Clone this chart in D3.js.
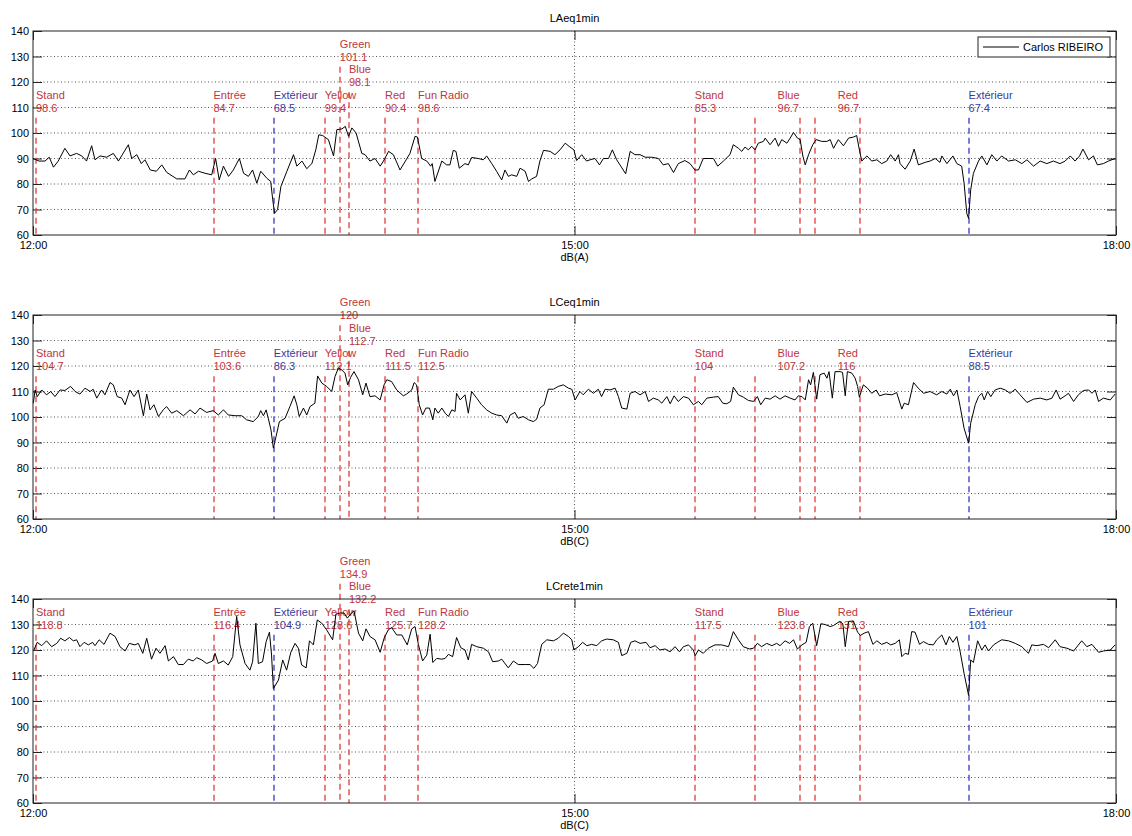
<!DOCTYPE html>
<html>
<head>
<meta charset="utf-8">
<script src="https://cdn.jsdelivr.net/npm/d3@7"></script>
<style>
  body { margin: 0; background: #fff; }
  svg { font-family: "Liberation Sans", Arial, sans-serif; font-size: 11px; }
  .tick line { stroke: #222; }
  .tick text { fill: #000; font-size: 11px; }
  .gridlines line { stroke: #555; stroke-dasharray: 1,2.5; }
</style>
</head>
<body>
<svg id="chart" width="1132" height="836"></svg>
<script>
// ----- data: minutes after 12:00, dB -----
const laeq = [[0,90],[2,89],[4,89],[5.4,90.5],[6.8,86.6],[8.4,89],[10.6,94],[12.3,91],[14.5,92],[16.2,91],[17.8,89],[19.5,95],[20.6,89.5],[22.3,91],[24.5,90.5],[26.7,92],[28.4,89],[31.7,95.4],[32.8,90],[34.5,91.5],[36,88],[37.2,89.5],[39,85.5],[41,85],[42.8,87.5],[44.5,84.5],[47.8,82],[50.5,82],[52,85.5],[53.3,83.6],[55,85],[57.2,84.2],[59.4,83.6],[60.7,90],[61.9,81.6],[63.3,87],[65,83],[66.6,85.5],[68.6,90],[70,84.2],[71.6,83],[73,85.5],[74.4,80.3],[75.7,85],[77.7,82.3],[79,81],[79.7,73.8],[80.3,68.5],[81.3,70],[82.4,79],[84.4,85],[86.6,91.5],[87.7,87],[89.4,89],[91,86],[92.7,88],[94,93.4],[95,99.3],[96.3,99],[98.2,97.4],[99.9,91],[101,101.3],[102.7,101.6],[103.8,102.6],[104.9,98.7],[106,102],[107.4,100],[109.3,92],[110.4,91.5],[112,89],[113.7,90],[115.4,87],[116.5,89],[118.2,92.8],[119.8,91.5],[122,85.5],[124.3,90],[125.3,92],[127,98.7],[127.8,98.4],[129.2,90],[130.9,89],[132.2,87],[132.7,88],[133.6,81],[135.9,89],[137.5,87.5],[138.6,87.5],[139.7,93.2],[140.6,92.8],[141.7,86.2],[143.6,88],[144.7,87.5],[145.8,90.4],[148,90],[149.7,89.5],[150.8,91],[152.5,88],[154.1,85],[155.8,81.6],[156.9,85.5],[158,83],[159.1,83.6],[160.8,83],[161.9,86.2],[163.6,85],[164.7,81],[165.8,82],[167.4,83],[168.5,89],[169.7,93.2],[171.9,92.8],[173.5,91.5],[175.2,93.4],[176.9,96],[178.5,94.5],[179.8,93.4],[180.7,89.2],[182.4,91.5],[184,89],[185.2,89.5],[186.8,90],[188.3,87.5],[189.6,90],[191.3,90],[192.6,93.4],[194,89.5],[195.4,87],[197,84],[198.5,92.8],[200.1,91.5],[201.8,91.5],[203.5,90.5],[205.7,90.5],[207.9,90],[209.5,87.5],[211.2,88],[212.9,84.5],[214.5,88],[216.7,89.2],[218.4,88],[220,85.5],[221.2,85.5],[222.8,90],[224.5,90],[226.2,90],[227.6,87],[229.5,89],[231.7,91.5],[232.8,95.4],[234.5,94],[235.6,92.8],[236.7,94.5],[237.8,93.4],[238.9,94.8],[240,93.4],[241.1,96],[242.8,96.7],[243.4,98],[245,95.4],[246.7,98],[247.8,94.8],[248.9,97.4],[250.6,96],[251.7,98],[252.8,100.2],[254.1,98],[255,97.4],[255.9,91],[256.7,87.5],[257.8,91.5],[259.2,95.4],[260.3,97.4],[262.2,96.7],[263.9,96.7],[265,97.4],[266.1,94],[267.7,97.4],[269.4,95],[271.1,98],[272.7,98.4],[273.8,99],[274.6,94],[275.5,89],[277.2,91],[278.8,89],[280.5,89.5],[282.1,88],[283.8,89],[285.1,91.5],[286.6,89],[287.7,91.5],[288.2,88],[289.9,85.8],[291.6,89],[292.9,93.7],[294.3,87.5],[296.6,88.5],[298.2,89],[299.9,90],[301.5,88.5],[302.1,91],[303.8,88],[305.8,91],[307.1,88],[308.7,87],[309.5,80.3],[310.4,68.5],[311,66.5],[311.7,77.7],[312.6,84.2],[314.3,89],[315.4,91],[317.1,87.5],[318.7,91.5],[320.4,89],[322,91],[324.3,89],[326.5,89.5],[328.7,88],[330.4,89.5],[332.6,87],[334.8,89],[337,88],[339.2,89],[341.4,88],[343.1,89],[344.8,91],[346.4,89],[347.9,91],[349,93.7],[350.9,89.5],[352.5,91],[353.8,87.5],[355.8,88],[357.5,89],[359.7,90]];

const lceq = [[0.1,105.4],[0.7,110.6],[1.4,108],[2.9,110.6],[4.5,108.7],[5.9,110],[7.3,108],[9,110.6],[10.6,110.4],[12.5,112],[14,110],[15.6,109],[17.3,111.3],[19,110],[20,110.9],[21.2,107.4],[22.8,110.6],[23.9,108.7],[25.6,113.5],[26.7,112.6],[28,108],[29.5,107.4],[30.6,104.8],[32.2,110.6],[33.6,108],[35,110.6],[36.7,100.5],[37.8,109],[38.9,102.8],[40.2,104.8],[41.7,100.2],[43.3,102.8],[44.4,104.1],[46.1,101.5],[47.8,102.5],[50,100.5],[52.2,102.8],[53.9,101.2],[55.5,103.5],[57.7,101.8],[59.9,102.5],[61.6,100.8],[63.3,102.8],[64.9,100.8],[67.2,100.5],[69.4,100.5],[71,98.9],[73.2,98.2],[74.9,100.2],[75.7,102.5],[76.6,100.5],[77.5,102.8],[78.2,99.5],[79.1,95],[79.9,87.8],[80.8,92.4],[81.9,98.2],[83.8,99.5],[85.4,104.1],[86.8,108.3],[87.7,104.8],[88.5,100.2],[89.9,103.5],[91,100.8],[92.1,104.1],[93.7,105.4],[94.6,116.1],[96,113.3],[97.6,112],[99.3,110],[100.4,115.9],[101.5,119.2],[102.6,118.5],[103.7,117.2],[104.6,112.6],[105.6,115.6],[106.7,117.8],[108.2,114.6],[109.6,108.7],[110.7,113.3],[112,108],[113.7,108.3],[115.4,106.7],[116.7,112.6],[117.6,114.6],[119.2,113.9],[120.9,110.6],[123.1,108.3],[124.2,109],[125.9,110.6],[126.7,113.5],[127.5,112.6],[128.4,104.8],[129.5,100.8],[130.6,103.5],[131.8,103.5],[132.9,98.9],[133.6,103.5],[134.7,101.5],[135.9,103.5],[137,101.5],[138.1,100.2],[139.2,102.8],[140.3,102.2],[140.8,109.3],[142,106.7],[143.6,108.7],[144.7,101.5],[145.8,110],[147.5,107.4],[149.1,104.8],[150.8,102.8],[152.5,101.5],[154.1,100.8],[155.8,100.5],[157.5,97.6],[158.6,100.8],[160.2,101.8],[161.3,99.5],[163,100.2],[164.7,98.9],[166.3,98.2],[167.4,99.1],[168.5,103.5],[169.9,104.8],[171.3,110.9],[173,110.9],[174.6,112],[176.3,112.6],[178,111.3],[179.1,110.9],[180.2,106.7],[181.8,110],[182.9,108.7],[184.6,110.9],[186.3,109.3],[187.9,110.9],[189,108],[190.2,110.9],[191.8,110.6],[193.5,111.3],[194.6,108],[195.7,103.5],[197.4,103.1],[198.5,109.3],[200.1,110],[201.8,108.7],[203.5,110],[204.6,106.1],[206.2,107.4],[207.9,106.7],[209,105.4],[210.7,108],[211.8,105.2],[213.1,108.3],[214.5,106.1],[216.2,108],[217.9,107.4],[219.5,104.8],[221.2,106.1],[222.3,104.8],[224,107.4],[226.2,107.8],[227.8,108],[229.3,105.4],[230.6,105.2],[231.9,106.1],[232.8,111.7],[234.5,108.7],[236.1,107.8],[237.8,106.5],[239.5,106.1],[240.8,108],[241.9,104.8],[243.4,107.4],[245,107],[246.7,108.3],[248.3,107],[250,108.3],[251.7,107.4],[253.3,106.7],[254.4,108.3],[255.6,108],[256.7,106.7],[257.8,114.6],[258.5,112.6],[259.4,117.5],[260.5,107],[261.6,116.6],[263,117.2],[263.9,115.2],[264.6,117.8],[265.7,107.4],[266.6,117.8],[268.3,117.8],[269.1,117.5],[270,108.3],[270.7,117.8],[272.2,117.2],[273.3,115.2],[274.1,112],[274.7,107.8],[276,112.6],[277.4,111.3],[278.8,109.3],[280.3,110.6],[281.4,108.3],[283.3,109],[285.5,108.7],[287.1,109.6],[288.8,103.1],[289.6,105.4],[291,104.8],[292.7,113.5],[294.3,111.3],[296,109.3],[298.2,110],[300.4,108.7],[302.1,110],[303.8,109],[304.9,110.9],[306,108.3],[307.1,110.6],[308.2,104.1],[309.5,95.6],[311,89.7],[311.7,97.6],[313.2,104.8],[314.3,108],[315.4,109.3],[316.2,106.7],[317.3,110],[318.4,108],[319.8,110.6],[321.5,111.3],[323.2,110.6],[324.8,109.3],[326.5,110.9],[328.1,108.7],[330.4,105.7],[332.6,107],[334.8,107.4],[337,106.7],[338.7,107.4],[340.1,110.6],[341.4,107],[343.1,108.3],[344.2,109.3],[345.9,106.1],[347.5,108.7],[349.2,110.4],[350.9,110.6],[352,109.3],[353.1,110.6],[354.2,106.1],[355.8,107.4],[358.1,106.7],[359.7,109]];

const lcrete = [[0.3,120],[1.4,123],[2.9,121.7],[4.5,123.6],[6.2,121.3],[7.9,122.6],[9.2,124.6],[10.6,123.6],[12.1,124.9],[13.4,123.6],[14.5,124],[15.6,121.3],[17,123],[18.4,122],[19.8,123],[20.6,121.7],[22,124],[23.6,122.2],[25.6,126.6],[27.3,125.3],[28.9,121.3],[30.6,119.6],[32,122.6],[33.9,122],[35,122.6],[36.5,118.7],[37.8,124.6],[39.4,116.4],[40.9,120.7],[42.2,118.7],[43.9,121.7],[45,115.7],[46.7,117.4],[48.3,114.3],[50,114.3],[51.6,116.4],[53.3,115.7],[54.4,117],[56.1,116.1],[57.7,114.7],[59.7,115.7],[60.5,118.7],[61.6,114.7],[63.3,115.7],[64.9,114.1],[66.4,117.4],[67.7,133.2],[68.8,122],[70.5,114.7],[72.1,112.1],[73,115.4],[74.1,130.5],[74.9,114.7],[76.3,115.4],[77.5,123.3],[78.6,127],[79.3,118],[79.9,104.9],[81.6,108.2],[83,116.1],[84.3,112.1],[85.7,119.1],[87.1,122.6],[88.2,120.7],[89.3,114.1],[90.8,113],[91.9,123.6],[93.2,122],[94.5,131.8],[96,130.5],[97.6,127.9],[99.6,124],[100.7,134.1],[102.1,134.5],[103.4,134.5],[104.5,132.5],[105.6,134.1],[106.7,135.4],[108.2,126.6],[109.6,123.6],[110.7,128.3],[112,125.3],[113.7,124],[115.4,119.1],[116.7,124.6],[118.1,127.9],[119.2,128.8],[120.9,125.9],[122.6,125.9],[124.4,122],[125.9,128.3],[127,129.2],[128.1,122.2],[129.5,115.7],[130.9,118],[132,126.2],[132.9,115.1],[134.2,116.7],[135.9,116.4],[137,116.7],[138.1,118.3],[139.5,117.4],[140.8,124.9],[142.2,120.9],[143.6,120],[144.7,116.1],[145.8,122.2],[147.5,121.3],[149.7,120.7],[151.4,119.3],[152.8,115.4],[154.7,115.7],[155.8,116.4],[158,113],[159.7,115.7],[161.3,114.3],[163.6,114.3],[165.2,114.3],[166.5,112.8],[167.7,114.7],[169.1,122.2],[170.8,124],[173,123.6],[174.6,124.6],[176.3,126.6],[178,125.3],[179.1,124],[179.8,120],[181.3,121.3],[182.7,123],[184.1,121.7],[185.7,122.2],[187.4,121.7],[189,123.6],[190.7,124.3],[192.9,124],[194.6,123],[195.7,117.8],[197.4,118.7],[198.7,123],[200.1,123.6],[201.8,122.6],[203.8,123],[205.1,120.9],[206.8,121.7],[208.4,120],[210.1,120.4],[211.8,119.3],[213.4,121.3],[214.9,119.3],[216.2,121.3],[217.9,122],[219.5,120],[220.1,117.8],[221.2,120],[222.8,118.7],[224.5,120.7],[226.7,122],[228.9,122],[231.2,121.3],[232.8,127.2],[234.5,124],[236.1,121.3],[238.1,120.4],[239.5,120.7],[240.8,122.6],[242.2,121.3],[243.9,122.6],[245.6,121.7],[247.2,122.6],[248.3,121.7],[250,123.6],[251.5,122.6],[252.8,124],[254.1,120.4],[255.6,122],[257,123],[258.1,129.2],[259.2,130.5],[260.5,121.7],[261.9,130.3],[263.3,130],[265,129.2],[266.1,129.6],[268.1,131.2],[269.2,130.3],[270,121.3],[271.1,131.2],[272.7,131.4],[274.1,127],[275,125.7],[276.3,126.6],[277.7,127.2],[279.2,122.2],[280.5,123.6],[282.1,122.2],[283.8,123],[285.1,122],[286.6,122.6],[288,124],[288.8,117.4],[289.9,118.7],[291,118.3],[292.1,127.2],[293.2,127],[294.7,122.2],[296,123.3],[297.7,122.2],[299.3,122],[300.4,124],[302.1,125.9],[303.5,122],[304.6,125.3],[305.8,123],[307.1,125.3],[308.2,119.3],[309.5,110.8],[311,102.2],[311.7,116.1],[312.6,115.1],[314,123.6],[315.4,120],[316.5,122],[317.6,119.6],[319.3,122],[320.6,123],[322,124],[324.3,123.6],[326.5,122.6],[328.7,121.3],[330.9,118.7],[332,122],[333.7,121.7],[335.9,122.2],[337.6,120.9],[339.8,124],[341.4,121.3],[343.7,120.7],[345.9,119.6],[348.6,123.6],[350.3,121.3],[352,122.2],[354.2,119.1],[355.8,119.6],[358.1,120],[359.7,122]];

// events: label names, where the label sits (minutes), the dashed marker lines (minutes)
const eventNames = ["Stand", "Entrée", "Extérieur", "Yellow", "Green", "Blue", "Red", "Fun Radio", "Stand", "Blue", "Red", "Extérieur"];
const eventLabelMin = [1, 60, 80, 97, 102, 105, 117, 128, 220, 247.5, 267.5, 311];
const eventLineMin = [1, 60, 80, 97, 102, 105, 117, 128, 220, 240, 255, 260, 275, 311];
const outdoorMin = [80, 311];

const laeqEvents = [98.6, 84.7, 68.5, 99.4, 101.1, 98.1, 90.4, 98.6, 85.3, 96.7, 96.7, 67.4];
const lceqEvents = [104.7, 103.6, 86.3, 112.1, 120, 112.7, 111.5, 112.5, 104, 107.2, 116, 88.5];
const lcreteEvents = [118.8, 116.4, 104.9, 128.6, 134.9, 132.2, 125.7, 128.2, 117.5, 123.8, 131.3, 101];

const yTicks = [60, 70, 80, 90, 100, 110, 120, 130, 140];
const xTickHours = [12, 15, 18];
const legendName = "Carlos RIBEIRO";

// ----- layout -----
const left = 33, right = 1116, panelH = 204;
const panels = [
  {top: 31,  title: "LAeq1min",   unit: "dB(A)", data: laeq,   events: laeqEvents,   base: 110},
  {top: 315, title: "LCeq1min",   unit: "dB(C)", data: lceq,   events: lceqEvents,   base: 120},
  {top: 599, title: "LCrete1min", unit: "dB(C)", data: lcrete, events: lcreteEvents, base: 130}
];
// Green and the first Blue are stacked above their neighbours
const lift = {4: 20, 5: 10};
const red = "#c0353d", blue = "#3a3a9c";
const redLine = "#e03a3a", blueLine = "#3838c0";

const day = new Date(2000, 0, 1, 12, 0);
const atMin = m => new Date(day.getTime() + m * 60000);

const svg = d3.select("#chart");
const x = d3.scaleTime().domain([atMin(0), atMin(360)]).range([left, right]);

panels.forEach(p => {
  const bottom = p.top + panelH;
  const y = d3.scaleLinear().domain([60, 140]).range([bottom, p.top]);
  const g = svg.append("g").attr("class", "panel");

  // gridlines
  const grid = g.append("g").attr("class", "gridlines");
  grid.selectAll("line.h")
      .data(yTicks.filter(v => v > 60 && v < 140))
      .join("line")
      .attr("x1", left).attr("x2", right)
      .attr("y1", d => y(d)).attr("y2", d => y(d));
  grid.append("line")
      .attr("x1", x(atMin(180))).attr("x2", x(atMin(180)))
      .attr("y1", p.top).attr("y2", bottom);

  // axes, ticks pointing inward like matlab
  const hourDates = xTickHours.map(h => atMin((h - 12) * 60));
  g.append("g").attr("class", "axis")
      .attr("transform", `translate(${left},0)`)
      .call(d3.axisLeft(y).tickValues(yTicks).tickSize(-9).tickSizeOuter(0).tickPadding(4))
      .call(a => a.select(".domain").remove());
  g.append("g").attr("class", "axis")
      .attr("transform", `translate(${right},0)`)
      .call(d3.axisRight(y).tickValues(yTicks).tickSize(-9).tickSizeOuter(0).tickFormat(""))
      .call(a => a.select(".domain").remove());
  g.append("g").attr("class", "axis")
      .attr("transform", `translate(0,${bottom})`)
      .call(d3.axisBottom(x).tickValues(hourDates).tickSize(-9).tickSizeOuter(0).tickPadding(6)
              .tickFormat(d3.timeFormat("%H:%M")))
      .call(a => a.select(".domain").remove());
  g.append("g").attr("class", "axis")
      .attr("transform", `translate(0,${p.top})`)
      .call(d3.axisTop(x).tickValues(hourDates).tickSize(-9).tickSizeOuter(0).tickFormat(""))
      .call(a => a.select(".domain").remove());
  g.selectAll(".axis text").attr("font-family", null).attr("font-size", null);

  // event markers, drawn on whole pixels so they spread over two columns like the original
  const labelAt = m => eventLabelMin.indexOf(m);
  g.selectAll("line.event")
      .data(eventLineMin)
      .join("line")
      .attr("class", "event")
      .attr("x1", d => Math.round(x(atMin(d)))).attr("x2", d => Math.round(x(atMin(d))))
      .attr("y1", d => y(p.base - 4 + (lift[labelAt(d)] || 0)))
      .attr("y2", bottom)
      .attr("stroke", d => outdoorMin.includes(d) ? blueLine : redLine)
      .attr("stroke-width", 1.3)
      .attr("stroke-dasharray", "6,4");

  const labels = g.selectAll("g.evlabel")
      .data(eventNames.map((n, i) => ({name: n, min: eventLabelMin[i], val: p.events[i], up: lift[i] || 0})))
      .join("g")
      .attr("class", "evlabel")
      .attr("fill", d => outdoorMin.includes(d.min) ? blue : red);
  labels.append("text")
      .attr("x", d => x(atMin(d.min)))
      .attr("y", d => y(p.base + 5 + d.up) + 4)
      .text(d => d.name);
  labels.append("text")
      .attr("x", d => x(atMin(d.min)))
      .attr("y", d => y(p.base + d.up) + 4)
      .text(d => d.val);

  // measured series
  g.append("path")
      .datum(p.data)
      .attr("fill", "none")
      .attr("stroke", "#000")
      .attr("stroke-width", 1)
      .attr("d", d3.line().x(d => x(atMin(d[0]))).y(d => y(d[1])));

  // frame
  g.append("rect")
      .attr("x", left).attr("y", p.top)
      .attr("width", right - left).attr("height", panelH)
      .attr("fill", "none").attr("stroke", "#222");

  g.append("text")
      .attr("x", (left + right) / 2).attr("y", p.top - 9)
      .attr("text-anchor", "middle")
      .text(p.title);
  g.append("text")
      .attr("x", (left + right) / 2).attr("y", bottom + 26)
      .attr("text-anchor", "middle")
      .text(p.unit);
});

// legend, top panel only
const leg = svg.append("g").attr("transform", `translate(978,${panels[0].top + 6})`);
leg.append("rect").attr("width", 132).attr("height", 20)
   .attr("fill", "#fff").attr("stroke", "#222");
leg.append("line").attr("x1", 5).attr("x2", 41).attr("y1", 10).attr("y2", 10)
   .attr("stroke", "#000");
leg.append("text").attr("x", 45).attr("y", 14).text(legendName);
</script>
</body>
</html>
